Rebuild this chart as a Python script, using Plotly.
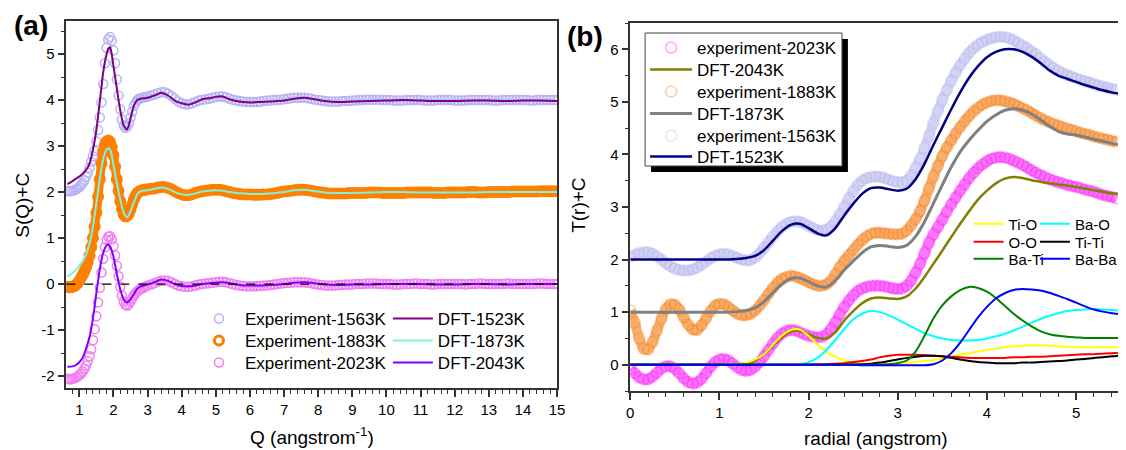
import plotly.graph_objects as go

W, H = 1126, 450
def px(x):
    return x / W
def py(y):
    return 1 - y / H

# ---------------- Panel (a): S(Q)+C ----------------
Q_EXP = [round(0.65 + 0.05 * i, 2) for i in range(48)] + [round(3.1 + 0.1 * i, 1) for i in range(120)]

S_EXP_1563 = [
    2.02, 2.02, 2.02, 2.03, 2.04, 2.06, 2.08, 2.11, 2.15, 2.20,
    2.26, 2.33, 2.42, 2.53, 2.66, 2.78, 2.90, 3.10, 3.35, 3.62,
    3.95, 4.35, 4.80, 5.14, 5.32, 5.37, 5.29, 5.08, 4.80, 4.45,
    4.10, 3.80, 3.58, 3.45, 3.40, 3.42, 3.50, 3.62, 3.75, 3.87,
    3.95, 4.00, 4.03, 4.04, 4.05, 4.06, 4.07, 4.08,
    4.10, 4.12, 4.15, 4.17, 4.17, 4.14, 4.09, 4.03, 3.97, 3.93,
    3.91, 3.91, 3.93, 3.96, 3.99, 4.01, 4.02, 4.03, 4.05, 4.07,
    4.08, 4.08, 4.06, 4.03, 4.01, 3.99, 3.98, 3.97, 3.96, 3.96,
    3.96, 3.96, 3.97, 3.98, 3.99, 3.99, 4.00, 4.00, 4.01, 4.02,
    4.03, 4.04, 4.05, 4.05, 4.05, 4.05, 4.04, 4.03, 4.01, 4.00,
    3.99, 3.98, 3.97, 3.97, 3.97, 3.97, 3.98, 3.98, 3.98, 3.99,
    3.99, 4.00, 4.00, 4.01, 4.01, 4.01, 4.01, 4.01, 4.00, 4.00,
    4.00, 3.99, 3.99, 3.99, 3.99, 4.00, 4.00, 4.00, 4.00, 4.00,
    3.99, 3.99, 3.99, 3.99, 4.00, 4.00, 4.00, 4.00, 4.00, 3.99,
    3.99, 3.99, 3.99, 4.00, 4.00, 4.00, 4.00, 4.00, 4.00, 4.00,
    3.99, 3.99, 3.99, 4.00, 4.00, 4.00, 4.00, 4.00, 4.00, 4.00,
    4.00, 3.99, 3.99, 4.00, 4.00, 4.00, 4.00, 4.00, 4.00, 4.00,
]
S_EXP_1883 = [
    -0.06, -0.07, -0.07, -0.06, -0.05, -0.02, 0.02, 0.07, 0.13, 0.20,
    0.28, 0.37, 0.48, 0.62, 0.80, 1.00, 1.25, 1.55, 1.90, 2.28,
    2.62, 2.88, 3.03, 3.10, 3.12, 3.09, 2.98, 2.80, 2.55, 2.28,
    2.03, 1.80, 1.63, 1.52, 1.47, 1.48, 1.53, 1.62, 1.73, 1.84,
    1.92, 1.98, 2.01, 2.03, 2.04, 2.05, 2.05, 2.06,
    2.07, 2.08, 2.10, 2.11, 2.11, 2.09, 2.06, 2.02, 1.98, 1.95,
    1.93, 1.93, 1.95, 1.98, 2.00, 2.02, 2.03, 2.04, 2.05, 2.05,
    2.05, 2.04, 2.02, 2.00, 1.98, 1.97, 1.96, 1.95, 1.95, 1.95,
    1.94, 1.94, 1.94, 1.95, 1.95, 1.96, 1.97, 1.98, 2.00, 2.01,
    2.02, 2.03, 2.04, 2.05, 2.05, 2.05, 2.04, 2.03, 2.01, 2.00,
    1.99, 1.98, 1.97, 1.97, 1.97, 1.97, 1.97, 1.97, 1.98, 1.98,
    1.98, 1.98, 1.98, 1.98, 1.99, 1.99, 1.99, 1.99, 1.98, 1.98,
    1.98, 1.98, 1.98, 1.98, 1.98, 1.99, 1.99, 1.99, 1.99, 1.99,
    1.99, 1.99, 1.99, 1.98, 1.98, 1.98, 1.98, 1.99, 1.99, 1.99,
    1.99, 1.99, 1.99, 2.00, 2.00, 2.00, 1.99, 1.99, 1.99, 2.00,
    2.00, 2.00, 2.00, 2.00, 2.00, 2.00, 2.01, 2.01, 2.01, 2.01,
    2.01, 2.01, 2.01, 2.01, 2.02, 2.02, 2.02, 2.02, 2.02, 2.02,
]
S_EXP_2023 = [
    -2.06, -2.07, -2.07, -2.06, -2.05, -2.03, -2.01, -1.98, -1.95, -1.90,
    -1.84, -1.77, -1.68, -1.57, -1.42, -1.22, -0.98, -0.70, -0.40, -0.08,
    0.25, 0.55, 0.80, 0.96, 1.03, 1.04, 0.97, 0.82, 0.62, 0.40,
    0.17, -0.06, -0.25, -0.38, -0.45, -0.47, -0.44, -0.38, -0.31, -0.25,
    -0.20, -0.16, -0.13, -0.11, -0.09, -0.07, -0.05, -0.03,
    -0.01, 0.02, 0.05, 0.07, 0.08, 0.07, 0.04, 0.00, -0.03, -0.05,
    -0.06, -0.06, -0.05, -0.03, -0.01, 0.00, 0.01, 0.02, 0.03, 0.04,
    0.05, 0.05, 0.04, 0.02, 0.00, -0.02, -0.03, -0.04, -0.05, -0.05,
    -0.05, -0.05, -0.04, -0.03, -0.03, -0.02, -0.01, 0.00, 0.01, 0.02,
    0.03, 0.03, 0.04, 0.04, 0.04, 0.04, 0.03, 0.02, 0.00, -0.01,
    -0.02, -0.03, -0.03, -0.03, -0.03, -0.02, -0.02, -0.01, -0.01, -0.01,
    0.00, 0.00, 0.00, 0.01, 0.01, 0.01, 0.01, 0.00, 0.00, 0.00,
    0.00, -0.01, -0.01, -0.01, 0.00, 0.00, 0.00, 0.01, 0.01, 0.00,
    0.00, 0.00, -0.01, -0.01, 0.00, 0.00, 0.00, 0.00, 0.00, 0.00,
    0.00, 0.00, -0.01, 0.00, 0.00, 0.00, 0.01, 0.01, 0.00, 0.00,
    0.00, 0.00, 0.00, 0.00, 0.01, 0.01, 0.00, 0.00, 0.00, 0.00,
    0.00, 0.00, 0.00, 0.01, 0.01, 0.01, 0.00, 0.00, 0.00, 0.00,
]

Q_DFT = [0.65, 0.8, 0.9, 1.0, 1.1, 1.2, 1.3, 1.4, 1.5, 1.6,
         1.7, 1.8, 1.85, 1.9, 1.95, 2.0, 2.1, 2.2, 2.3, 2.4,
         2.5, 2.6, 2.7, 2.8, 3.0, 3.2, 3.4, 3.6, 3.8, 4.0,
         4.2, 4.4, 4.6, 4.8, 5.0, 5.2, 5.4, 5.6, 5.8, 6.0,
         6.3, 6.6, 7.0, 7.3, 7.6, 7.9, 8.2, 8.6, 9.0, 9.5,
         10, 10.5, 11, 11.5, 12, 12.5, 13, 13.5, 14, 14.5, 15]
S_DFT_1523 = [
    2.17, 2.24, 2.29, 2.34, 2.40, 2.48, 2.62, 2.92, 3.35, 3.96,
    4.60, 5.00, 5.12, 5.15, 5.00, 4.75, 4.25, 3.78, 3.45, 3.36,
    3.60, 3.88, 4.00, 4.03, 4.05, 4.10, 4.16, 4.10, 3.99, 3.93,
    3.90, 3.95, 4.02, 4.04, 4.07, 4.08, 4.02, 3.98, 3.96, 3.95,
    3.96, 3.97, 3.99, 4.03, 4.05, 4.02, 3.98, 3.96, 3.97, 3.98,
    3.99, 4.00, 3.99, 3.98, 3.98, 3.99, 3.99, 3.98, 3.99, 3.99, 3.98,
]
S_DFT_1873 = [
    0.16, 0.24, 0.31, 0.40, 0.50, 0.65, 0.88, 1.25, 1.75, 2.28,
    2.72, 2.93, 2.95, 2.93, 2.80, 2.60, 2.20, 1.85, 1.55, 1.45,
    1.58, 1.78, 1.95, 2.02, 2.04, 2.07, 2.10, 2.07, 2.00, 1.95,
    1.94, 1.97, 2.01, 2.03, 2.04, 2.03, 2.00, 1.98, 1.97, 1.96,
    1.96, 1.97, 2.00, 2.04, 2.05, 2.02, 1.99, 1.98, 1.98, 1.99,
    2.00, 2.00, 1.99, 1.99, 1.99, 1.99, 2.00, 2.00, 2.00, 2.00, 2.00,
]
S_DFT_2043 = [
    -1.80, -1.79, -1.76, -1.70, -1.60, -1.40, -1.15, -0.75, -0.20, 0.32,
    0.68, 0.84, 0.86, 0.82, 0.73, 0.60, 0.22, -0.12, -0.33, -0.40,
    -0.33, -0.22, -0.10, -0.05, -0.01, 0.04, 0.10, 0.07, 0.00, -0.04,
    -0.05, -0.03, 0.00, 0.02, 0.03, 0.04, 0.02, -0.01, -0.03, -0.03,
    -0.03, -0.02, 0.00, 0.03, 0.04, 0.02, -0.01, -0.02, -0.01, -0.01,
    0.00, 0.00, 0.00, -0.01, -0.01, 0.00, 0.00, -0.01, 0.00, 0.00, 0.00,
]

# ---------------- Panel (b): T(r)+C ----------------
R_EXP = [round(0.05 * i, 2) for i in range(110)]
T_EXP_1563 = [
    2.05, 2.09, 2.12, 2.14, 2.14, 2.11, 2.06, 2.00, 1.93, 1.87,
    1.83, 1.80, 1.79, 1.79, 1.81, 1.85, 1.90, 1.96, 2.02, 2.07,
    2.10, 2.11, 2.10, 2.07, 2.03, 2.00, 1.98, 1.99, 2.04, 2.12,
    2.22, 2.33, 2.44, 2.54, 2.62, 2.68, 2.72, 2.73, 2.72, 2.69,
    2.64, 2.60, 2.56, 2.55, 2.57, 2.63, 2.73, 2.86, 3.00, 3.16,
    3.30, 3.42, 3.50, 3.55, 3.57, 3.58, 3.57, 3.55, 3.52, 3.49,
    3.47, 3.47, 3.50, 3.60, 3.75, 3.92, 4.12, 4.35, 4.60, 4.83,
    5.04, 5.22, 5.40, 5.56, 5.70, 5.82, 5.93, 6.02, 6.09, 6.14,
    6.18, 6.21, 6.23, 6.24, 6.23, 6.21, 6.17, 6.12, 6.07, 6.02,
    5.96, 5.90, 5.83, 5.76, 5.70, 5.64, 5.59, 5.55, 5.51, 5.48,
    5.45, 5.42, 5.39, 5.37, 5.34, 5.31, 5.29, 5.27, 5.25, 5.23,
]
T_EXP_1883 = [
    1.03, 0.80, 0.50, 0.30, 0.29, 0.43, 0.65, 0.88, 1.06, 1.15,
    1.14, 1.05, 0.90, 0.76, 0.67, 0.66, 0.75, 0.88, 1.02, 1.12,
    1.16, 1.15, 1.10, 1.03, 0.97, 0.94, 0.94, 0.97, 1.03, 1.12,
    1.23, 1.35, 1.46, 1.56, 1.63, 1.67, 1.69, 1.68, 1.65, 1.61,
    1.57, 1.53, 1.50, 1.50, 1.53, 1.60, 1.72, 1.86, 1.98, 2.08,
    2.18, 2.28, 2.37, 2.44, 2.49, 2.51, 2.51, 2.50, 2.49, 2.48,
    2.48, 2.49, 2.55, 2.65, 2.77, 2.92, 3.12, 3.35, 3.58, 3.78,
    3.97, 4.13, 4.27, 4.40, 4.52, 4.63, 4.73, 4.82, 4.89, 4.95,
    4.99, 5.02, 5.03, 5.03, 5.01, 4.99, 4.96, 4.92, 4.88, 4.84,
    4.79, 4.74, 4.69, 4.65, 4.61, 4.58, 4.55, 4.52, 4.49, 4.47,
    4.44, 4.41, 4.39, 4.37, 4.34, 4.32, 4.30, 4.28, 4.26, 4.24,
]
T_EXP_2023 = [
    -0.08, -0.16, -0.24, -0.28, -0.28, -0.23, -0.15, -0.07, -0.03, -0.03,
    -0.08, -0.16, -0.26, -0.33, -0.36, -0.34, -0.27, -0.16, -0.04, 0.05,
    0.10, 0.11, 0.08, 0.02, -0.05, -0.10, -0.12, -0.10, -0.04, 0.05,
    0.16, 0.28, 0.40, 0.51, 0.59, 0.64, 0.66, 0.65, 0.62, 0.58,
    0.55, 0.53, 0.52, 0.53, 0.58, 0.68, 0.81, 0.96, 1.10, 1.22,
    1.32, 1.40, 1.45, 1.48, 1.50, 1.50, 1.50, 1.49, 1.47, 1.45,
    1.44, 1.45, 1.50, 1.60, 1.75, 1.92, 2.12, 2.32, 2.48, 2.62,
    2.76, 2.91, 3.05, 3.18, 3.31, 3.43, 3.55, 3.65, 3.74, 3.81,
    3.87, 3.92, 3.94, 3.95, 3.94, 3.92, 3.88, 3.84, 3.80, 3.75,
    3.70, 3.65, 3.61, 3.57, 3.53, 3.50, 3.47, 3.45, 3.42, 3.40,
    3.38, 3.36, 3.33, 3.31, 3.29, 3.26, 3.23, 3.21, 3.19, 3.17,
]

R_DFT = [round(0.1 * i, 1) for i in range(56)]
T_DFT_1523 = [
    2.00, 2.00, 2.00, 2.00, 2.00, 2.00, 2.00, 2.00, 2.00, 2.00,
    2.00, 2.00, 2.01, 2.03, 2.07, 2.18, 2.36, 2.54, 2.66, 2.68,
    2.60, 2.50, 2.46, 2.60, 2.84, 3.06, 3.25, 3.36, 3.37, 3.34,
    3.31, 3.35, 3.53, 3.82, 4.18, 4.52, 4.86, 5.18, 5.46, 5.68,
    5.85, 5.95, 6.00, 6.00, 5.95, 5.86, 5.74, 5.60, 5.50, 5.44,
    5.38, 5.32, 5.27, 5.22, 5.18, 5.15,
]
T_DFT_1873 = [
    1.00, 1.00, 1.00, 1.00, 1.00, 1.00, 1.00, 1.00, 1.00, 1.00,
    1.00, 1.00, 1.01, 1.03, 1.08, 1.20, 1.37, 1.53, 1.64, 1.65,
    1.58, 1.50, 1.48, 1.60, 1.80, 1.97, 2.13, 2.24, 2.27, 2.25,
    2.23, 2.27, 2.44, 2.72, 3.07, 3.42, 3.76, 4.05, 4.27, 4.46,
    4.63, 4.75, 4.84, 4.87, 4.84, 4.77, 4.66, 4.54, 4.44, 4.39,
    4.37, 4.33, 4.29, 4.25, 4.21, 4.18,
]
T_DFT_2043 = [
    0.00, 0.00, 0.00, 0.00, 0.00, 0.00, 0.00, 0.00, 0.00, 0.00,
    0.00, 0.00, 0.01, 0.03, 0.08, 0.20, 0.36, 0.52, 0.63, 0.64,
    0.58, 0.51, 0.50, 0.62, 0.84, 1.02, 1.17, 1.26, 1.28, 1.26,
    1.25, 1.30, 1.45, 1.67, 1.92, 2.17, 2.43, 2.68, 2.92, 3.14,
    3.31, 3.45, 3.54, 3.57, 3.55, 3.51, 3.48, 3.45, 3.43, 3.41,
    3.38, 3.35, 3.32, 3.29, 3.26, 3.24,
]
P_TI_O = [
    0.00, 0.00, 0.00, 0.00, 0.00, 0.00, 0.00, 0.00, 0.00, 0.00,
    0.00, 0.01, 0.02, 0.04, 0.10, 0.20, 0.38, 0.55, 0.66, 0.67,
    0.55, 0.38, 0.24, 0.15, 0.08, 0.04, 0.02, 0.01, 0.01, 0.01,
    0.02, 0.03, 0.05, 0.07, 0.09, 0.12, 0.15, 0.19, 0.22, 0.25,
    0.28, 0.31, 0.33, 0.35, 0.36, 0.37, 0.37, 0.36, 0.35, 0.34,
    0.34, 0.33, 0.33, 0.33, 0.33, 0.33,
]
P_BA_O = [
    0.00, 0.00, 0.00, 0.00, 0.00, 0.00, 0.00, 0.00, 0.00, 0.00,
    0.00, 0.00, 0.00, 0.00, 0.00, 0.00, 0.00, 0.00, 0.00, 0.01,
    0.05, 0.13, 0.28, 0.47, 0.68, 0.86, 0.97, 1.02, 1.00, 0.94,
    0.86, 0.77, 0.68, 0.60, 0.54, 0.50, 0.47, 0.46, 0.46, 0.47,
    0.50, 0.54, 0.59, 0.65, 0.72, 0.80, 0.87, 0.93, 0.98, 1.02,
    1.04, 1.05, 1.06, 1.05, 1.04, 1.03,
]
P_O_O = [
    0.00, 0.00, 0.00, 0.00, 0.00, 0.00, 0.00, 0.00, 0.00, 0.00,
    0.00, 0.00, 0.00, 0.00, 0.00, 0.00, 0.00, 0.00, 0.00, 0.00,
    0.00, 0.01, 0.01, 0.02, 0.03, 0.05, 0.07, 0.10, 0.14, 0.17,
    0.19, 0.19, 0.19, 0.18, 0.17, 0.16, 0.15, 0.14, 0.13, 0.13,
    0.13, 0.13, 0.13, 0.14, 0.14, 0.15, 0.15, 0.16, 0.17, 0.18,
    0.19, 0.20, 0.20, 0.21, 0.22, 0.22,
]
P_TI_TI = [
    0.00, 0.00, 0.00, 0.00, 0.00, 0.00, 0.00, 0.00, 0.00, 0.00,
    0.00, 0.00, 0.00, 0.00, 0.00, 0.00, 0.00, 0.00, 0.00, 0.00,
    0.00, 0.00, 0.00, 0.00, 0.00, 0.005, 0.01, 0.02, 0.04, 0.07,
    0.10, 0.13, 0.15, 0.17, 0.17, 0.16, 0.13, 0.10, 0.07, 0.05,
    0.04, 0.03, 0.03, 0.03, 0.04, 0.04, 0.05, 0.06, 0.07, 0.08,
    0.10, 0.11, 0.13, 0.14, 0.16, 0.17,
]
P_BA_TI = [
    0.00, 0.00, 0.00, 0.00, 0.00, 0.00, 0.00, 0.00, 0.00, 0.00,
    0.00, 0.00, 0.00, 0.00, 0.00, 0.00, 0.00, 0.00, 0.00, 0.00,
    0.00, 0.00, 0.00, 0.00, 0.00, 0.00, 0.00, 0.00, 0.005, 0.01,
    0.03, 0.08, 0.25, 0.55, 0.88, 1.13, 1.30, 1.42, 1.48, 1.46,
    1.39, 1.27, 1.12, 0.97, 0.84, 0.73, 0.64, 0.58, 0.55, 0.53,
    0.52, 0.51, 0.51, 0.51, 0.51, 0.51,
]
P_BA_BA = [
    0.00, 0.00, 0.00, 0.00, 0.00, 0.00, 0.00, 0.00, 0.00, 0.00,
    0.00, 0.00, 0.00, 0.00, 0.00, 0.00, 0.00, 0.00, 0.00, 0.00,
    0.00, 0.00, 0.00, 0.00, 0.00, 0.00, -0.01, -0.01, -0.01, -0.01,
    -0.01, -0.01, -0.01, -0.01, 0.01, 0.08, 0.22, 0.42, 0.66, 0.90,
    1.10, 1.26, 1.36, 1.42, 1.44, 1.43, 1.41, 1.37, 1.31, 1.25,
    1.18, 1.11, 1.05, 1.01, 0.98, 0.96,
]

A_YTICKS = [-2, -1, 0, 1, 2, 3, 4, 5]
A_YTICKTEXT = ["-2", "-1", "0", "1", "2", "3", "4", "5"]
A_XTICKS = list(range(1, 16))
B_YTICKS = [0, 1, 2, 3, 4, 5, 6]
B_XTICKS = [0, 1, 2, 3, 4, 5]

for arr in (S_EXP_1563, S_EXP_1883, S_EXP_2023):
    assert len(arr) == len(Q_EXP), len(arr)
for arr in (S_DFT_1523, S_DFT_1873, S_DFT_2043):
    assert len(arr) == len(Q_DFT), len(arr)
for arr in (T_EXP_1563, T_EXP_1883, T_EXP_2023):
    assert len(arr) == len(R_EXP), len(arr)
for arr in (T_DFT_1523, T_DFT_1873, T_DFT_2043, P_TI_O, P_BA_O, P_O_O, P_TI_TI, P_BA_TI, P_BA_BA):
    assert len(arr) == len(R_DFT), len(arr)

FONT = "Arial, Liberation Sans, sans-serif"
fig = go.Figure()
legends = {}
counter = [0]

def new_legend(xl, yc, size, itemwidth=30):
    counter[0] += 1
    key = "legend" if counter[0] == 1 else "legend%d" % counter[0]
    legends[key] = dict(x=px(xl), y=py(yc), xanchor="left", yanchor="middle",
                        bgcolor="rgba(0,0,0,0)", borderwidth=0, itemwidth=itemwidth,
                        font=dict(family=FONT, size=size, color="#000"))
    return key

# ---- panel (a) experiments ----
A_ROWS = [319, 341, 363]
exp_a = [
    ("Experiment-1563K", S_EXP_1563, "#b4b4f6", 1.5, False),
    ("Experiment-1883K", S_EXP_1883, "#ff8000", 3.0, True),
    ("Experiment-2023K", S_EXP_2023, "#f27ef2", 1.5, False),
]
for i, (name, ys, col, lw, band) in enumerate(exp_a):
    if band:
        fig.add_trace(go.Scatter(x=Q_EXP, y=ys, mode="lines", showlegend=False, xaxis="x", yaxis="y",
                                 line=dict(color=col, width=9, shape="spline", smoothing=0.5),
                                 hoverinfo="skip"))
    fig.add_trace(go.Scatter(
        x=Q_EXP, y=ys, mode="markers", name=name, xaxis="x", yaxis="y",
        legend=new_legend(191, A_ROWS[i], 17, 42),
        marker=dict(symbol="circle-open", size=9, color=col, line=dict(width=lw, color=col)),
    ))
dft_a = [
    ("DFT-1523K", S_DFT_1523, "#800080"),
    ("DFT-1873K", S_DFT_1873, "#7ff2e0"),
    ("DFT-2043K", S_DFT_2043, "#8000ff"),
]
for i, (name, ys, col) in enumerate(dft_a):
    fig.add_trace(go.Scatter(
        x=Q_DFT, y=ys, mode="lines", name=name, xaxis="x", yaxis="y",
        legend=new_legend(388, A_ROWS[i], 17, 40),
        line=dict(color=col, width=2, shape="spline", smoothing=0.7),
    ))

# ---- panel (b) ----
B_ROWS = [48, 70, 92, 114, 136, 157]
exp_b = [
    ("experiment-2023K", T_EXP_2023, "#ff20ff", "#fb78fb", 0.4, 0),
    ("experiment-1883K", T_EXP_1883, "#f58220", "#f9ad6a", 0.4, 2),
    ("experiment-1563K", T_EXP_1563, "#b0b0ee", "#d3d3f6", 0.35, 4),
]
for name, ys, col, bandcol, op, row in reversed(exp_b):
    fig.add_trace(go.Scatter(x=R_EXP, y=ys, mode="lines", showlegend=False, xaxis="x2", yaxis="y2",
                             line=dict(color=bandcol, width=10, shape="spline", smoothing=0.6),
                             hoverinfo="skip"))
    fig.add_trace(go.Scatter(
        x=R_EXP, y=ys, mode="markers", name=name, xaxis="x2", yaxis="y2",
        legend=new_legend(648, B_ROWS[row], 17, 42),
        marker=dict(symbol="circle-open", size=11, color=col, opacity=op, line=dict(width=1.5, color=col)),
    ))
dft_b = [
    ("DFT-1523K", T_DFT_1523, "#000080", 2.5, 5),
    ("DFT-1873K", T_DFT_1873, "#808080", 3, 3),
    ("DFT-2043K", T_DFT_2043, "#808000", 2.5, 1),
]
for name, ys, col, lw, row in dft_b:
    fig.add_trace(go.Scatter(
        x=R_DFT, y=ys, mode="lines", name=name, xaxis="x2", yaxis="y2",
        legend=new_legend(648, B_ROWS[row], 17, 42),
        line=dict(color=col, width=lw, shape="spline", smoothing=0.7),
    ))

C_ROWS = [224, 242, 259]
C_COLS = [975, 1042]
partials = [
    ("Ti-O", P_TI_O, "#ffff00", 0, 0),
    ("Ba-O", P_BA_O, "#00ffff", 0, 1),
    ("O-O", P_O_O, "#ff0000", 1, 0),
    ("Ti-Ti", P_TI_TI, "#000000", 1, 1),
    ("Ba-Ti", P_BA_TI, "#008000", 2, 0),
    ("Ba-Ba", P_BA_BA, "#0000ff", 2, 1),
]
for name, ys, col, r, c in partials:
    fig.add_trace(go.Scatter(
        x=R_DFT, y=ys, mode="lines", name=name, xaxis="x2", yaxis="y2",
        legend=new_legend(C_COLS[c], C_ROWS[r], 15),
        line=dict(color=col, width=2, shape="spline", smoothing=0.7),
    ))

AX = dict(showline=True, linecolor="#333333", linewidth=1.5, ticks="outside", ticklen=7,
          tickwidth=1.5, tickcolor="#333333", showgrid=False, zeroline=False,
          tickfont=dict(family=FONT, size=15, color="#000"))
MINOR = dict(ticklen=4, ticks="outside", tickcolor="#333333", tickwidth=1.2)

fig.update_layout(
    width=W, height=H, margin=dict(l=0, r=0, t=0, b=0),
    paper_bgcolor="white", plot_bgcolor="white", showlegend=True,
    font=dict(family=FONT, color="#000"),
    xaxis=dict(AX, domain=[px(63), px(559)], range=[0.62, 15], tickmode="array", tickvals=A_XTICKS,
               mirror=True, anchor="y", minor=dict(MINOR, dtick=0.2, tick0=0)),
    yaxis=dict(AX, domain=[1 - 388 / H, 1 - 21 / H], range=[-2.26, 5.72], tickmode="array",
               tickvals=A_YTICKS, ticktext=A_YTICKTEXT, mirror=True, anchor="x",
               minor=dict(MINOR, dtick=0.5, tick0=0)),
    xaxis2=dict(AX, domain=[px(633), 1.0], range=[0, 5.47], tickmode="array", tickvals=B_XTICKS,
                mirror=True, anchor="y2", minor=dict(MINOR, dtick=0.2, tick0=0)),
    yaxis2=dict(AX, domain=[1 - 391 / H, 1 - 23 / H], range=[-0.5, 6.5], tickmode="array",
                tickvals=B_YTICKS, mirror=False, anchor="x2", minor=dict(MINOR, dtick=0.5, tick0=0)),
    shapes=[
        dict(type="line", xref="x domain", yref="y", x0=0, x1=1, y0=0, y1=0,
             line=dict(color="#000000", width=1.2, dash="dash"), layer="above"),
        dict(type="rect", xref="paper", yref="paper", x0=px(654), x1=px(853), y0=py(172), y1=py(39),
             fillcolor="#000000", line=dict(width=0), layer="above"),
        dict(type="rect", xref="paper", yref="paper", x0=px(648), x1=px(847), y0=py(166), y1=py(33),
             fillcolor="#ffffff", line=dict(width=1, color="#444444"), layer="above"),
    ],
    annotations=[
        dict(text="<b>(a)</b>", x=px(8), y=py(25), xref="paper", yref="paper", xanchor="left",
             yanchor="middle", showarrow=False, font=dict(family=FONT, size=28)),
        dict(text="<b>(b)</b>", x=px(567), y=py(37), xref="paper", yref="paper", xanchor="left",
             yanchor="middle", showarrow=False, font=dict(family=FONT, size=28)),
        dict(text="S(Q)+C", x=px(19), y=py(205), xref="paper", yref="paper", textangle=-90,
             xanchor="center", yanchor="middle", showarrow=False, font=dict(family=FONT, size=19)),
        dict(text="T(r)+C", x=px(581), y=py(205), xref="paper", yref="paper", textangle=-90,
             xanchor="center", yanchor="middle", showarrow=False, font=dict(family=FONT, size=19)),
        dict(text="Q (angstrom<sup>-1</sup>)", x=px(311), y=py(436), xref="paper", yref="paper",
             xanchor="center", yanchor="middle", showarrow=False, font=dict(family=FONT, size=19)),
        dict(text="radial (angstrom)", x=px(881), y=py(438), xref="paper", yref="paper",
             xanchor="center", yanchor="middle", showarrow=False, font=dict(family=FONT, size=19)),
    ],
)
fig.update_layout(**legends)

fig.write_html("out.html", config={"displayModeBar": False})
